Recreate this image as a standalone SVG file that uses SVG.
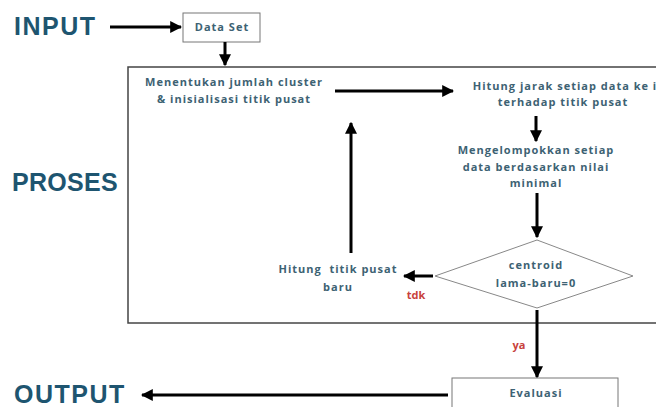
<svg xmlns="http://www.w3.org/2000/svg" width="656" height="407" viewBox="0 0 656 407">
<style>
.h{font-family:"Liberation Sans",Arial,sans-serif;font-weight:bold;font-size:25px;fill:#1e5570;letter-spacing:1.5px}
.t{font-family:"Open Sans","DejaVu Sans",sans-serif;font-weight:bold;font-size:11px;fill:#3d6273;letter-spacing:1px;text-anchor:middle}
.r{font-family:"Open Sans","DejaVu Sans",sans-serif;font-weight:bold;font-size:11px;fill:#c8423c;text-anchor:middle}
.box{fill:#fff;stroke:#777;stroke-width:1}
.ln{stroke:#000;stroke-width:3;fill:none}
</style>
<defs>
<marker id="ah" viewBox="0 0 10 10" refX="9" refY="5" markerWidth="4" markerHeight="4" orient="auto" markerUnits="strokeWidth">
<path d="M0,0 L10,5 L0,10 z" fill="#000"/>
</marker>
</defs>
<rect width="656" height="407" fill="#fff"/>
<g id="labels">
<text class="h" x="14" y="35">INPUT</text>
<text class="h" x="12" y="191" style="letter-spacing:0.3px">PROSES</text>
<text class="h" x="14" y="403">OUTPUT</text>
</g>
<g id="proses-frame">
<rect x="128" y="67" width="540" height="256" fill="none" stroke="#444" stroke-width="1.5"/>
</g>
<g id="dataset">
<rect class="box" x="183" y="13" width="77" height="29"/>
<text class="t" x="222" y="31">Data Set</text>
</g>
<g id="menentukan">
<text class="t" x="234" y="86">Menentukan jumlah cluster</text>
<text class="t" x="234" y="103">&amp; inisialisasi titik pusat</text>
</g>
<g id="hitung-jarak">
<text class="t" x="565" y="90">Hitung jarak setiap data ke i</text>
<text class="t" x="563" y="106">terhadap titik pusat</text>
</g>
<g id="mengelompokkan">
<text class="t" x="536" y="154">Mengelompokkan setiap</text>
<text class="t" x="536" y="171">data berdasarkan nilai</text>
<text class="t" x="536" y="187">minimal</text>
</g>
<g id="decision">
<polygon points="537,240 633,276 537,308 435,276" fill="#fff" stroke="#888" stroke-width="1"/>
<text class="t" x="536" y="269">centroid</text>
<text class="t" x="536" y="287">lama-baru=0</text>
</g>
<g id="hitung-titik">
<text class="t" x="338" y="273" xml:space="preserve">Hitung  titik pusat</text>
<text class="t" x="338" y="291">baru</text>
</g>
<g id="evaluasi">
<rect class="box" x="452" y="378" width="166" height="40"/>
<text class="t" x="536" y="397">Evaluasi</text>
</g>
<g id="connectors">
<line class="ln" x1="110" y1="27" x2="181" y2="27" marker-end="url(#ah)"/>
<line class="ln" x1="225" y1="42" x2="225" y2="65" marker-end="url(#ah)"/>
<line class="ln" x1="335" y1="91" x2="453" y2="91" marker-end="url(#ah)"/>
<line class="ln" x1="536" y1="116" x2="536" y2="141" marker-end="url(#ah)"/>
<line class="ln" x1="537" y1="193" x2="537" y2="237" marker-end="url(#ah)"/>
<line class="ln" x1="433" y1="276" x2="404" y2="276" marker-end="url(#ah)"/>
<line class="ln" x1="351" y1="253" x2="351" y2="123" marker-end="url(#ah)"/>
<line class="ln" x1="537" y1="310" x2="537" y2="377" marker-end="url(#ah)"/>
<line class="ln" x1="448" y1="395" x2="142" y2="395" marker-end="url(#ah)"/>
<text class="r" x="416" y="299">tdk</text>
<text class="r" x="519" y="349">ya</text>
</g>
</svg>
